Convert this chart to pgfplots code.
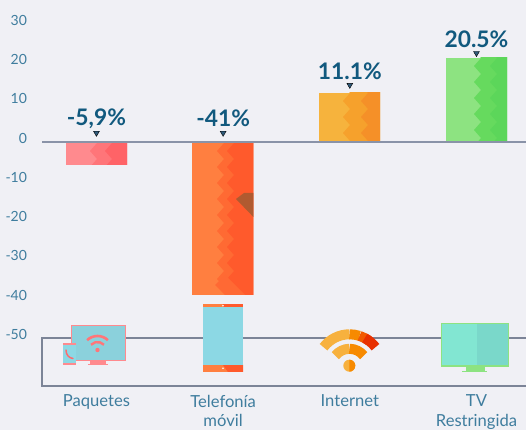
\documentclass[border=0pt]{standalone}
\usepackage{pgfplots}
\pgfplotsset{compat=1.18}
\usepackage{fontspec}
\setmainfont{Lato}
\definecolor{bg}{HTML}{F0F0F5}
\definecolor{axln}{HTML}{8A93A8}
\definecolor{tk}{HTML}{3F7D9E}
\definecolor{val}{HTML}{11597E}
\definecolor{mk}{HTML}{2F5A7A}
\definecolor{pk1}{HTML}{FF8A8E}\definecolor{pk2}{HTML}{FF7579}\definecolor{pk3}{HTML}{FF6367}
\definecolor{or1}{HTML}{FF7F40}\definecolor{or2}{HTML}{FF6A33}\definecolor{or3}{HTML}{FF5A2C}
\definecolor{am1}{HTML}{F6B33D}\definecolor{am2}{HTML}{F6A12C}\definecolor{am3}{HTML}{F59028}
\definecolor{gr1}{HTML}{8DE381}\definecolor{gr2}{HTML}{66DA5E}\definecolor{gr3}{HTML}{5CD65A}
\definecolor{scr}{HTML}{8CD8E4}
\definecolor{brn}{HTML}{B05A30}
\definecolor{wa}{HTML}{F7B13E}\definecolor{wb}{HTML}{F78A00}\definecolor{wc}{HTML}{F25A00}\definecolor{wd}{HTML}{E83000}
\definecolor{tva}{HTML}{82E6D2}\definecolor{tvb}{HTML}{7AD8CA}
\newcommand{\zig}[6]{% xleft-of-clip, xright, ytop, ybottom, zigzag x, colour
  \begin{scope}
    \clip (#1,#3) rectangle (#2,#4);
    \fill[#6] (#5,#3-16) foreach \k in {0,...,14}{ -- ({#5-7},{#3+16*\k-8}) -- (#5,{#3+16*\k}) } -- (#2,#4+40) -- (#2,#3-16) -- cycle;
  \end{scope}}
\begin{document}
\begin{tikzpicture}
\fill[bg] (-42pt,-44pt) rectangle (484pt,386pt);
\path[use as bounding box] (-42pt,-44pt) rectangle (484pt,386pt);
\begin{axis}[
  at={(0pt,0pt)}, anchor=south west, scale only axis,
  width=484pt, height=381pt,
  xmin=-0.430, xmax=3.391, ymin=-62.09, ymax=34.86,
  axis line style={draw=none}, tick style={draw=none},
  clip=false,
  xtick={0,1,2,3},
  xticklabels={Paquetes,Telefonía\\móvil,Internet,TV\\Restringida},
  x tick label style={align=center, text=tk, font=\fontsize{16.6}{19.5}\selectfont, yshift=-1pt},
  ytick={-50,-40,-30,-20,-10,0,10,20,30},
  y tick label style={text=tk, font=\fontsize{14}{16}\selectfont, yshift=4pt, xshift=-11.5pt},
  /pgf/number format/assume math mode=true,
  ybar, bar width=61pt, bar shift=0pt,
]
\addplot[draw=none, fill=pk1] coordinates {(0,-5.85)};
\addplot[draw=none, fill=or1] coordinates {(0.996,-38.9)};
\addplot[draw=none, fill=am1] coordinates {(2,12.47)};
\addplot[draw=none, fill=gr1] coordinates {(3,21.45)};
\addplot[sharp plot, only marks, mark=triangle*, mark size=3.4pt, mark options={rotate=180, fill=mk, draw=none}, forget plot]
  coordinates {(0,2.3) (1,2.3) (2,14.5) (3,22.6)};
\node[text=val, font=\fontsize{22.8}{25}\selectfont\bfseries] at (axis cs:0,5.85) {-5,9\%};
\node[text=val, font=\fontsize{22.8}{25}\selectfont\bfseries] at (axis cs:1,6.0) {-41\%};
\node[text=val, font=\fontsize{22.8}{25}\selectfont\bfseries] at (axis cs:2,18.0) {11.1\%};
\node[text=val, font=\fontsize{22.8}{25}\selectfont\bfseries] at (axis cs:3,26.2) {20.5\%};
\end{axis}
\begin{scope}[x=1pt,y=-1pt,shift={(-42pt,386pt)}]
% bar facets
\zig{66}{127}{143}{165}{97}{pk2}
\zig{66}{127}{143}{165}{112}{pk3}
\zig{192.6}{253.4}{143}{295}{224}{or2}
\zig{192.6}{253.4}{143}{295}{234}{or3}
\fill[or1] (192.6,295) -- (192.6,262) -- (225,295) -- cycle;
\fill[or3!60!or1] (225,295) -- (215,285) -- (225,275) -- (245,295) -- cycle;
\fill[brn] (236,199) -- (244,193) -- (253.4,193) -- (253.4,217) -- cycle;
\zig{319}{380}{93}{141}{350}{am2}
\zig{319}{380}{93}{141}{368}{am3}
\zig{446}{507}{58}{141}{481}{gr2}
\zig{446}{507}{58}{141}{497}{gr3}
% axis rules
\draw[axln, line width=1.6pt] (42,142) -- (526,142);
\draw[axln!90!black, line width=1.1pt] (526,338) -- (42,338) -- (42,386) -- (526,386);
% Packages icon
\fill[pk1] (90,360) rectangle (106,364);
\fill[pk1] (88,364) rectangle (108,365.4);
\fill[scr!92!gray] (71,325) rectangle (125,360);
\draw[pk1, line width=.9pt] (71,325) rectangle (125,360);
\fill[pk1] (63,343) rectangle (76,365);
\fill[scr] (63,345) rectangle (76,363);
\draw[pk3!80!pk1, line width=1.5pt, line cap=round] (66,350) .. controls (66,355) and (69,358) .. (73,358.5);
\draw[pk2, line width=2.6pt] (97.5,351) ++(-46:15) arc (-46:-134:15);
\draw[pk2, line width=2.4pt] (97.5,351) ++(-44:9) arc (-44:-136:9);
\fill[pk2] (97.5,350) circle (2.2);
% Mobile icon
\fill[or1] (203,304) rectangle (243,372);
\fill[or3] (223,304) -- (243,304) -- (243,307) -- (223,307) -- cycle;
\fill[or3] (223,365) -- (243,365) -- (243,372) -- (228,372) -- cycle;
\fill[scr] (203,307) rectangle (243,365);
\fill[white] (223,305.8) circle (.9);
\fill[white] (223,368.3) circle (.9);
% Wifi icon
\draw[wa, line width=10pt] (349.5,366.8) ++(-90:32.5) arc (-90:-143:32.5);
\draw[wa, line width=10pt] (349.5,366.8) ++(-90:18) arc (-90:-142:18);
\draw[wb, line width=10pt] (349.5,366.8) ++(-90:32.5) arc (-90:-72:32.5);
\draw[wc, line width=10pt] (349.5,366.8) ++(-72:32.5) arc (-72:-53:32.5);
\draw[wd, line width=10pt] (349.5,366.8) ++(-62:32.5) arc (-62:-37:32.5);
\draw[wb, line width=10pt] (349.5,366.8) ++(-90:18) arc (-90:-38:18);
\fill[wa] (349.3,365.7) circle (6);
\fill[wb] (349.3,359.7) arc (-90:90:6) -- cycle;
% TV icon
\fill[gr1] (466,367) rectangle (485,371);
\fill[gr1] (462,371) rectangle (487,372);
\fill[tva] (441,323) rectangle (509,366.7);
\fill[tvb] (477,323) -- (509,323) -- (509,367) -- (477,367) -- cycle;
\draw[gr1, line width=1.3pt] (441.6,323.6) rectangle (508.4,366.1);
\end{scope}
\end{tikzpicture}
\end{document}
